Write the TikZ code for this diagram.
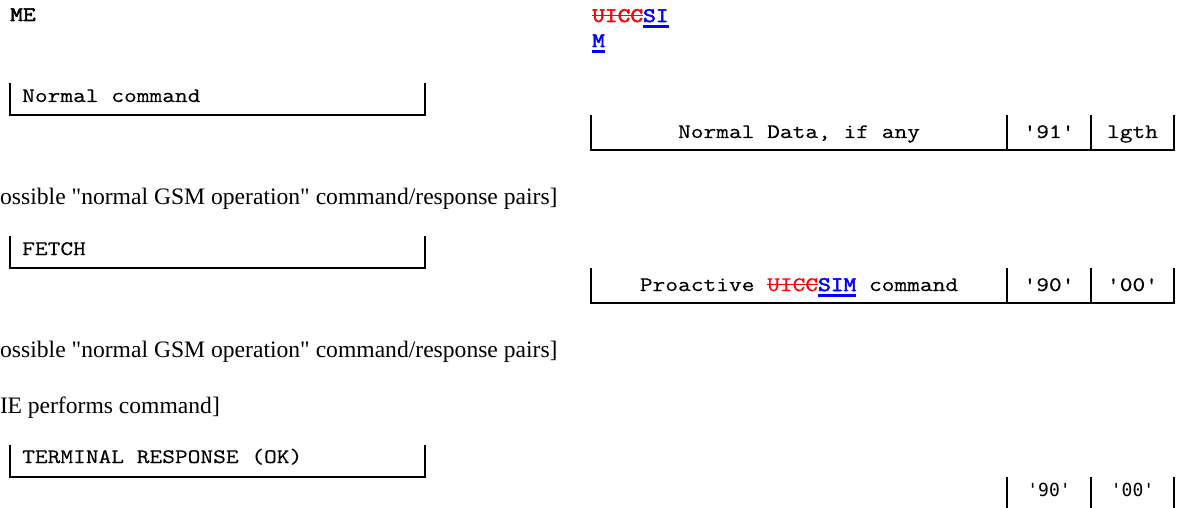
\documentclass[tikz,border=0pt]{standalone}
\usepackage{fontspec}
\setmainfont{Liberation Serif}
\setmonofont{Latin Modern Mono}[FakeStretch=1.2,FakeBold=0.3]
\newfontfamily\courb{Latin Modern Mono}[FakeStretch=1.2,FakeBold=2.5]
\newfontfamily\tnr{Liberation Serif}
\newfontfamily\sansmono{DejaVu Sans Mono}
\newsavebox\mybox
\newcommand\myul[1]{\sbox\mybox{#1}\rlap{\rule[-5.6pt]{\wd\mybox}{2.6pt}}\usebox\mybox}
\newcommand\myso[1]{\sbox\mybox{#1}\rlap{\rule[5.6pt]{\wd\mybox}{1.4pt}}\usebox\mybox}
\begin{document}
\begin{tikzpicture}[x=1pt,y=-1pt,
  mono/.style={font=\fontsize{20.6}{24}\selectfont\ttfamily, inner sep=0pt, anchor=base},
  monol/.style={mono, anchor=base west},
  monob/.style={monol, font=\fontsize{20.6}{24}\selectfont\courb},
  serif/.style={font=\fontsize{23.6}{28}\selectfont\tnr, inner sep=0pt, anchor=base west},
  small/.style={font=\fontsize{18}{21}\selectfont\sansmono, inner sep=0pt, anchor=base},
  boxline/.style={line width=2pt}]
\useasboundingbox (0,0) rectangle (1177,508);
\clip (0,0) rectangle (1177,508);

% headers
\node[monob] (me) at (10,21) {ME};
\node[monob] (simA) at (592,22)
  {\textcolor{red}{\myso{UICC}}\textcolor{blue}{\myul{SI}}};
\node[monob] (simB) at (592,47)
  {\textcolor{blue}{\myul{M}}};

% row 1
\draw[boxline] (9.5,83) -- (9.5,115) -- (425,115) -- (425,83);
\node[monol] (cmd1) at (22,102) {Normal command};
\draw[boxline] (591,115) -- (591,150) -- (1174,150) -- (1174,115);
\draw[boxline] (1007,115) -- (1007,150);
\draw[boxline] (1091,115) -- (1091,150);
\node[mono] (rsp1) at (799,138) {Normal Data, if any};
\node[mono] (sw1a) at (1049,138) {'91'};
\node[mono] (sw1b) at (1132.5,138) {lgth};

\node[serif] (note1) at (0,204) {ossible "normal GSM operation" command/response pairs]};

% row 2
\draw[boxline] (9.5,236) -- (9.5,268) -- (425,268) -- (425,236);
\node[monol] (cmd2) at (22,255) {FETCH};
\draw[boxline] (591,268) -- (591,303) -- (1174,303) -- (1174,268);
\draw[boxline] (1007,268) -- (1007,303);
\draw[boxline] (1091,268) -- (1091,303);
\node[mono] (rsp2) at (799,291) {Proactive \textcolor{red}{\myso{UICC}}\textcolor{blue}{\courb\myul{SIM}} command};
\node[mono] (sw2a) at (1049,291) {'90'};
\node[mono] (sw2b) at (1132.5,291) {'00'};

\node[serif] (note2) at (0,357) {ossible "normal GSM operation" command/response pairs]};
\node[serif] (note3) at (0,413) {I\kern-0.5pt E performs command]};

% row 3
\draw[boxline] (9.5,445) -- (9.5,477) -- (425,477) -- (425,445);
\node[monol] (cmd3) at (22,463) {TERMINAL RESPONSE (OK)};
\draw[boxline] (1007,477) -- (1007,512);
\draw[boxline] (1091,477) -- (1091,512);
\draw[boxline] (1174,477) -- (1174,512);
\node[small] (sw3a) at (1049,496) {'90'};
\node[small] (sw3b) at (1132.5,496) {'00'};
\end{tikzpicture}
\end{document}
